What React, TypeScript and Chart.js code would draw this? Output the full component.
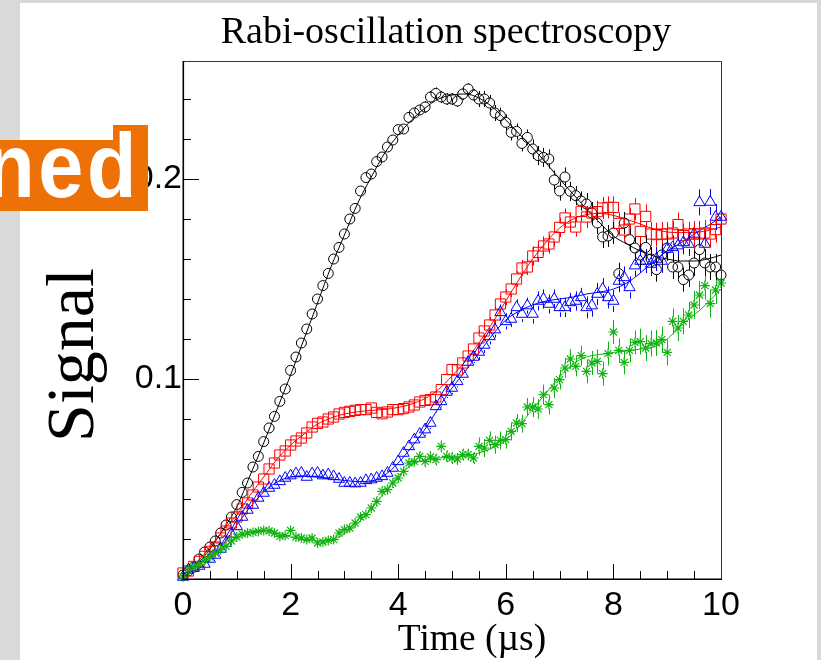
import React, { useEffect, useRef } from "react";
import { Chart, registerables } from "chart.js";

Chart.register(...registerables);

// sampling of the measured points and of the fitted curves (µs)
const TIME_STEP = 0.1;
const FIT_STEP = 0.25;

// measured signal, one value every TIME_STEP from 0 to 10 µs
const blackData = [
  0.002, 0.004, 0.006, 0.01, 0.0135, 0.016, 0.019, 0.023, 0.027, 0.031,
  0.0372, 0.0433, 0.048, 0.056, 0.0613, 0.0687, 0.0755, 0.0813, 0.0888, 0.095,
  0.1043, 0.111, 0.118, 0.125, 0.1325, 0.14, 0.1467, 0.1528, 0.16, 0.1658,
  0.1725, 0.18, 0.1853, 0.194, 0.2007, 0.2025, 0.2087, 0.211, 0.216, 0.2195,
  0.2247, 0.225, 0.2308, 0.233, 0.2345, 0.236, 0.241, 0.2428, 0.241, 0.24,
  0.24, 0.239, 0.2425, 0.245, 0.242, 0.24, 0.24, 0.238, 0.233, 0.2317,
  0.2283, 0.2233, 0.2238, 0.2178, 0.2208, 0.215, 0.2117, 0.2108, 0.21, 0.1995,
  0.194, 0.201, 0.1938, 0.1917, 0.189, 0.1875, 0.183, 0.178, 0.171, 0.1715,
  0.173, 0.1527, 0.178, 0.1697, 0.1655, 0.162, 0.1658, 0.16, 0.1547, 0.162,
  0.1655, 0.156, 0.156, 0.1497, 0.152, 0.158, 0.1647, 0.158, 0.156, 0.156,
  0.152,
];
const redData = [
  0.003, 0.004, 0.0063, 0.0088, 0.0113, 0.0138, 0.016, 0.0205, 0.024, 0.028,
  0.031, 0.035, 0.038, 0.042, 0.046, 0.05, 0.055, 0.058, 0.062, 0.064,
  0.067, 0.069, 0.0705, 0.073, 0.076, 0.0778, 0.0785, 0.08, 0.081, 0.0825,
  0.0833, 0.0838, 0.0843, 0.0847, 0.0847, 0.0855, 0.0833, 0.0826, 0.0835, 0.0847,
  0.0847, 0.0852, 0.086, 0.087, 0.0885, 0.0893, 0.0897, 0.091, 0.0947, 0.0997,
  0.1047, 0.1045, 0.108, 0.1115, 0.115, 0.1205, 0.124, 0.127, 0.132, 0.1375,
  0.141, 0.145, 0.15, 0.1555, 0.156, 0.1615, 0.1633, 0.1665, 0.1675, 0.171,
  0.1758, 0.1805, 0.1785, 0.176, 0.1838, 0.181, 0.183, 0.1837, 0.1855, 0.1858,
  0.1858, 0.1778, 0.1745, 0.18, 0.185, 0.1738, 0.1813, 0.1725, 0.1722, 0.1725,
  0.1725, 0.173, 0.1772, 0.1717, 0.1725, 0.1725, 0.1725, 0.173, 0.1725, 0.1747,
  0.18,
];
const blueData = [
  0.001, 0.0047, 0.0055, 0.0065, 0.0075, 0.01, 0.012, 0.015, 0.018, 0.0225,
  0.0263, 0.031, 0.0345, 0.037, 0.0405, 0.043, 0.0455, 0.047, 0.0488, 0.0505,
  0.0517, 0.0527, 0.053, 0.051, 0.0527, 0.053, 0.0517, 0.0522, 0.0513, 0.05,
  0.048, 0.048, 0.0477, 0.048, 0.0493, 0.0497, 0.0505, 0.0513, 0.053, 0.0555,
  0.0588, 0.063, 0.0663, 0.0697, 0.0725, 0.0747, 0.078, 0.0863, 0.0888, 0.0935,
  0.0955, 0.0988, 0.1025, 0.1085, 0.111, 0.1135, 0.117, 0.1213, 0.1247, 0.1333,
  0.1288, 0.13, 0.1358, 0.1325, 0.1367, 0.1325, 0.139, 0.14, 0.1375, 0.14,
  0.1358, 0.1358, 0.1383, 0.139, 0.1408, 0.1358, 0.1367, 0.1425, 0.145, 0.1408,
  0.139, 0.149, 0.1508, 0.1458, 0.1567, 0.159, 0.159, 0.1575, 0.16, 0.159,
  0.165, 0.1658, 0.1667, 0.1683, 0.1675, 0.1725, 0.1883, 0.1675, 0.1885, 0.181,
  0.181,
];
const greenData = [
  0.001, 0.0047, 0.006, 0.0072, 0.0095, 0.011, 0.013, 0.0147, 0.0163, 0.019,
  0.021, 0.0225, 0.023, 0.0233, 0.0238, 0.0243, 0.024, 0.023, 0.0213, 0.0217,
  0.0243, 0.021, 0.0205, 0.0197, 0.0205, 0.018, 0.0185, 0.0193, 0.0197, 0.023,
  0.0247, 0.0255, 0.028, 0.031, 0.0322, 0.0355, 0.0388, 0.0438, 0.0447, 0.048,
  0.0505, 0.0538, 0.058, 0.0588, 0.0613, 0.0588, 0.061, 0.0597, 0.0663, 0.0613,
  0.0605, 0.06, 0.0622, 0.0622, 0.0605, 0.0663, 0.0655, 0.0693, 0.0672, 0.0693,
  0.0697, 0.0738, 0.078, 0.0777, 0.086, 0.086, 0.085, 0.0922, 0.0872, 0.0955,
  0.0997, 0.1055, 0.11, 0.1063, 0.1117, 0.1038, 0.108, 0.1088, 0.1027, 0.1127,
  0.1235, 0.1143, 0.1083, 0.1143, 0.1183, 0.1187, 0.1155, 0.1177, 0.118, 0.1197,
  0.1133, 0.1288, 0.1255, 0.1288, 0.132, 0.137, 0.142, 0.1467, 0.1377, 0.1445,
  0.148,
];

// fitted curves, one value every FIT_STEP from 0 to 10 µs
const blackFit = [
  0.002, 0.007, 0.015, 0.025, 0.036, 0.052, 0.068, 0.085, 0.102, 0.12,
  0.138, 0.156, 0.172, 0.188, 0.201, 0.213, 0.222, 0.2295, 0.2355, 0.24,
  0.242, 0.2425, 0.2405, 0.236, 0.2295, 0.2225, 0.2155, 0.208, 0.2, 0.1925,
  0.185, 0.178, 0.1715, 0.1675, 0.164, 0.1615, 0.16, 0.159, 0.159, 0.16,
  0.162,
];
const redFit = [
  0.002, 0.008, 0.016, 0.0245, 0.032, 0.042, 0.051, 0.06, 0.067, 0.0725,
  0.0775, 0.0805, 0.0825, 0.0836, 0.0843, 0.0848, 0.0858, 0.0875, 0.0903, 0.0948,
  0.1015, 0.109, 0.118, 0.128, 0.139, 0.15, 0.16, 0.1685, 0.1755, 0.18,
  0.1822, 0.1828, 0.1818, 0.1798, 0.1775, 0.175, 0.1735, 0.1732, 0.1733, 0.1742,
  0.176,
];
const blueFit = [
  0.001, 0.0045, 0.01, 0.0175, 0.027, 0.036, 0.0435, 0.0485, 0.051, 0.0515,
  0.051, 0.05, 0.0493, 0.0487, 0.049, 0.052, 0.058, 0.066, 0.075, 0.0855,
  0.0955, 0.104, 0.113, 0.122, 0.1295, 0.134, 0.137, 0.139, 0.14, 0.141,
  0.1425, 0.1435, 0.145, 0.148, 0.153, 0.159, 0.164, 0.168, 0.1725, 0.1765,
  0.181,
];
const greenFit = [
  0.001, 0.006, 0.011, 0.016, 0.0205, 0.0235, 0.0243, 0.023, 0.021, 0.0195,
  0.019, 0.0195, 0.0225, 0.028, 0.035, 0.0435, 0.0515, 0.057, 0.0595, 0.0605,
  0.061, 0.0615, 0.063, 0.0655, 0.0695, 0.0765, 0.085, 0.093, 0.101, 0.1075,
  0.111, 0.1123, 0.1133, 0.114, 0.115, 0.116, 0.12, 0.1265, 0.132, 0.138,
  0.145,
];

// error bar half-heights, per whole µs (0..10)
const blackErr = [0.001, 0.001, 0.0015, 0.002, 0.0025, 0.003, 0.004, 0.0048, 0.0055, 0.006, 0.0065];
const redErr = [0.001, 0.001, 0.0015, 0.002, 0.0025, 0.003, 0.004, 0.0048, 0.0055, 0.006, 0.0065];
const blueErr = [0.001, 0.001, 0.0015, 0.002, 0.0025, 0.003, 0.004, 0.0048, 0.0055, 0.006, 0.0065];
const greenErr = [0.001, 0.001, 0.0015, 0.002, 0.0025, 0.003, 0.0045, 0.005, 0.006, 0.0065, 0.007];

const X_LABELS = [0, 2, 4, 6, 8, 10];
const Y_LABELS = [0.1, 0.2];

const toPoints = (vals: number[], step: number) =>
  vals.map((y, i) => ({ x: Math.round(i * step * 100) / 100, y }));

const near = (a: number, b: number) => Math.abs(a - b) < 1e-6;
const onGrid = (v: number, step: number) => Math.abs(v / step - Math.round(v / step)) < 1e-6;

const errorBarPlugin = {
  id: "errorBars",
  afterDatasetsDraw(chart: any) {
    const { ctx } = chart;
    const xs = chart.scales.x;
    const ys = chart.scales.y;
    chart.data.datasets.forEach((ds: any) => {
      if (!ds.errors) return;
      ctx.save();
      ctx.strokeStyle = ds.pointBorderColor;
      ctx.lineWidth = 1;
      ds.data.forEach((p: any) => {
        const e = ds.errors[Math.round(p.x)];
        const px = Math.round(xs.getPixelForValue(p.x)) + 0.5;
        const py = ys.getPixelForValue(p.y);
        const top = ys.getPixelForValue(p.y + e);
        const bot = ys.getPixelForValue(p.y - e);
        const r = ds.gap;
        ctx.beginPath();
        if (py - top > r) {
          ctx.moveTo(px, top);
          ctx.lineTo(px, py - r);
        }
        if (bot - py > r) {
          ctx.moveTo(px, py + r);
          ctx.lineTo(px, bot);
        }
        ctx.stroke();
      });
      ctx.restore();
    });
  },
};

const framePlugin = {
  id: "frameTicks",
  afterDraw(chart: any) {
    const { ctx, chartArea } = chart;
    const { left, right, top, bottom } = chartArea;
    const xs = chart.scales.x;
    const ys = chart.scales.y;
    ctx.save();
    ctx.strokeStyle = "#000";
    ctx.lineWidth = 1;
    xs.ticks.forEach((t: any) => {
      const v = t.value;
      if (!onGrid(v, 0.5)) return;
      const major = X_LABELS.some((l) => near(l, v));
      const px = Math.round(xs.getPixelForValue(v)) + 0.5;
      ctx.beginPath();
      ctx.moveTo(px, bottom);
      ctx.lineTo(px, bottom - (major ? 15 : 8));
      ctx.stroke();
    });
    ys.ticks.forEach((t: any) => {
      const v = t.value;
      if (!onGrid(v, 0.02)) return;
      const major = Y_LABELS.some((l) => near(l, v));
      const py = Math.round(ys.getPixelForValue(v)) + 0.5;
      ctx.beginPath();
      ctx.moveTo(left, py);
      ctx.lineTo(left + (major ? 16 : 8), py);
      ctx.stroke();
    });
    ctx.strokeStyle = "#333";
    ctx.lineWidth = 1;
    ctx.beginPath();
    ctx.moveTo(left, top + 0.5);
    ctx.lineTo(right + 0.5, top + 0.5);
    ctx.lineTo(right + 0.5, bottom);
    ctx.stroke();
    ctx.strokeStyle = "#000";
    ctx.lineWidth = 1.6;
    ctx.beginPath();
    ctx.moveTo(left + 0.3, top);
    ctx.lineTo(left + 0.3, bottom + 0.3);
    ctx.lineTo(right + 1, bottom + 0.3);
    ctx.stroke();
    ctx.restore();
  },
};

const GREEN = "#11b311";

const markerSet = (
  data: number[],
  color: string,
  style: string,
  radius: number,
  errors: number[],
  gap: number,
  width = 1
) => ({
  data: toPoints(data, TIME_STEP),
  showLine: false,
  pointStyle: style,
  pointRadius: radius,
  pointHoverRadius: radius,
  pointBorderColor: color,
  pointBackgroundColor: "rgba(0,0,0,0)",
  pointBorderWidth: width,
  borderColor: color,
  clip: false,
  errors,
  gap,
});

const fitSet = (data: number[], color: string) => ({
  data: toPoints(data, FIT_STEP),
  showLine: true,
  borderColor: color,
  borderWidth: 1,
  pointRadius: 0,
  fill: false,
  cubicInterpolationMode: "monotone",
});

export default function App() {
  const ref = useRef<HTMLCanvasElement>(null);

  useEffect(() => {
    const chart = new Chart(ref.current as HTMLCanvasElement, {
      type: "scatter",
      data: {
        datasets: [
          markerSet(greenData, GREEN, "star", 5, greenErr, 4, 1.2),
          markerSet(blueData, "#0000ff", "triangle", 6.5, blueErr, 5),
          markerSet(redData, "#ff0000", "rect", 7.2, redErr, 5),
          markerSet(blackData, "#000000", "circle", 5, blackErr, 5),
          fitSet(greenFit, GREEN),
          fitSet(blueFit, "#0000ff"),
          fitSet(redFit, "#ff0000"),
          fitSet(blackFit, "#000000"),
        ] as any,
      },
      options: {
        responsive: false,
        devicePixelRatio: 1,
        animation: false,
        events: [],
        layout: { padding: { left: 0, right: 100, top: 61, bottom: 0 } },
        plugins: {
          legend: { display: false },
          tooltip: { enabled: false },
          title: { display: false },
        },
        scales: {
          x: {
            type: "linear",
            min: 0,
            max: 10,
            afterFit: (s: any) => {
              s.height = 81;
            },
            grid: { display: false, drawTicks: false },
            border: { display: false },
            ticks: {
              stepSize: 0.5,
              autoSkip: false,
              maxRotation: 0,
              padding: 6,
              color: "#000",
              font: { family: "'Liberation Sans', Arial, sans-serif", size: 34 },
              callback: (v: any) => {
                const hit = X_LABELS.find((l) => near(l, Number(v)));
                return hit === undefined ? "" : String(hit);
              },
            },
          },
          y: {
            type: "linear",
            min: 0,
            max: 0.259,
            afterFit: (s: any) => {
              s.width = 183;
            },
            grid: { display: false, drawTicks: false },
            border: { display: false },
            ticks: {
              stepSize: 0.02,
              autoSkip: false,
              padding: 1,
              color: "#000",
              font: { family: "'Liberation Sans', Arial, sans-serif", size: 34 },
              callback: (v: any) => {
                const hit = Y_LABELS.find((l) => near(l, Number(v)));
                return hit === undefined ? "" : String(hit);
              },
            },
          },
        },
      } as any,
      plugins: [errorBarPlugin, framePlugin],
    });
    return () => chart.destroy();
  }, []);

  const serif = "'Liberation Serif', 'Times New Roman', serif";
  const ORANGE = "#ee7108";

  return (
    <div
      style={{
        position: "fixed",
        left: 0,
        top: 0,
        width: 821,
        height: 660,
        background: "#d9d9d9",
        overflow: "hidden",
      }}
    >
      <div style={{ position: "absolute", left: 20, top: 3, width: 797, height: 657, background: "#fff" }} />
      <canvas
        ref={ref}
        width={821}
        height={660}
        style={{ position: "absolute", left: 0, top: 0, width: 821, height: 660 }}
      />
      <div
        style={{
          position: "absolute",
          left: 146,
          top: 11,
          width: 600,
          textAlign: "center",
          fontFamily: serif,
          fontSize: 38,
          lineHeight: "38px",
          color: "#000",
          whiteSpace: "nowrap",
        }}
      >
        Rabi-oscillation spectroscopy
      </div>
      <div
        style={{
          position: "absolute",
          left: 172,
          top: 619,
          width: 600,
          textAlign: "center",
          fontFamily: serif,
          fontSize: 37.5,
          lineHeight: "37.5px",
          color: "#000",
          whiteSpace: "nowrap",
        }}
      >
        Time (µs)
      </div>
      <div
        style={{
          position: "absolute",
          left: 70 - 150,
          top: 355 - 34,
          width: 300,
          height: 68,
          textAlign: "center",
          fontFamily: serif,
          fontSize: 68,
          lineHeight: "68px",
          color: "#000",
          whiteSpace: "nowrap",
          transform: "rotate(-90deg)",
        }}
      >
        Signal
      </div>
      <div style={{ position: "absolute", left: 0, top: 140, width: 148, height: 71, background: ORANGE }} />
      <div style={{ position: "absolute", left: 113, top: 125, width: 35, height: 20, background: ORANGE }} />
      <div
        style={{
          position: "absolute",
          left: -160,
          top: 121,
          width: 300,
          textAlign: "right",
          fontFamily: "'Liberation Sans', Arial, sans-serif",
          fontWeight: 700,
          fontSize: 90,
          lineHeight: "90px",
          color: "#fff",
          whiteSpace: "nowrap",
          transform: "scaleX(0.9)",
          transformOrigin: "right center",
          letterSpacing: 4,
        }}
      >
        ned
      </div>
    </div>
  );
}
